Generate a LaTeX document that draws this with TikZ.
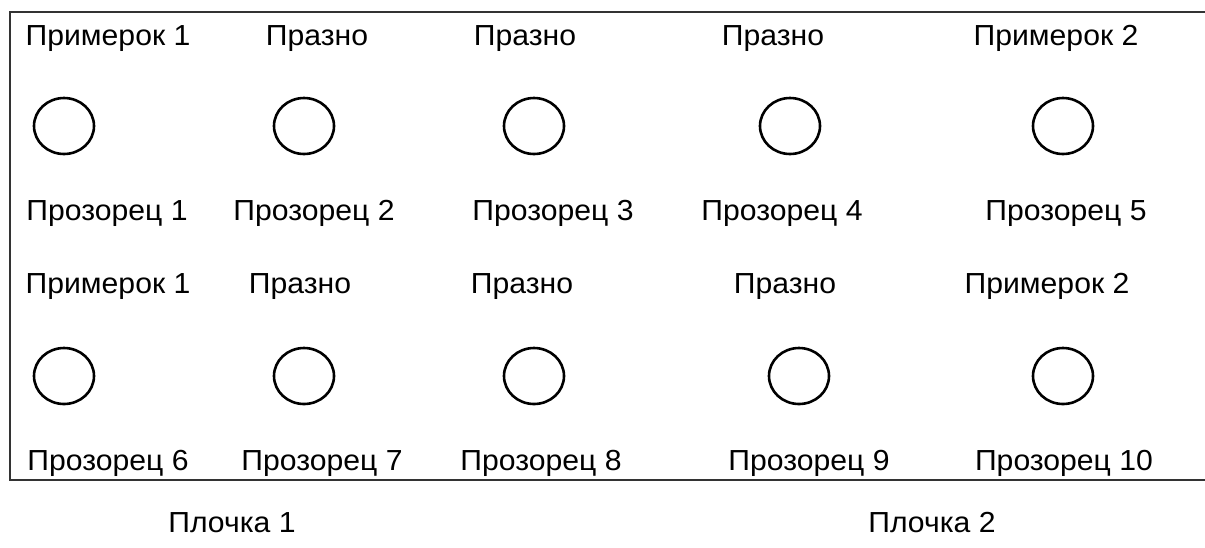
\documentclass[tikz,border=0pt]{standalone}
\usepackage{fontspec}
\setmainfont{Liberation Sans}
\usetikzlibrary{shapes.geometric}
\begin{document}
\begin{tikzpicture}[x=1pt,y=-1pt,
  lbl/.style={inner sep=0pt,anchor=base,xscale=1.04,font=\fontsize{29}{33}\selectfont},
  hole/.style={draw=black,line width=2.6pt,ellipse,inner sep=0pt,minimum width=60pt,minimum height=56pt},
  frame/.style={draw=black!80,line width=1.6pt}]
\useasboundingbox (0,0) rectangle (1205,547);
\draw[frame] (1205,12) -- (10,12) -- (10,480) -- (1205,480);
% row 1
\node[lbl] (t1) at (108,45) {Примерок 1};
\node[lbl] (t2) at (317,45) {Празно};
\node[lbl] (t3) at (525,45) {Празно};
\node[lbl] (t4) at (773,45) {Празно};
\node[lbl] (t5) at (1056,45) {Примерок 2};
\node[hole] (c1) at (64,126) {};
\node[hole] (c2) at (304,126) {};
\node[hole] (c3) at (534,126) {};
\node[hole] (c4) at (790,126) {};
\node[hole] (c5) at (1063,126) {};
\node[lbl] (w1) at (107,220) {Прозорец 1};
\node[lbl] (w2) at (314,220) {Прозорец 2};
\node[lbl] (w3) at (553,220) {Прозорец 3};
\node[lbl] (w4) at (782,220) {Прозорец 4};
\node[lbl] (w5) at (1066,220) {Прозорец 5};
% row 2
\node[lbl] (s1) at (108,293) {Примерок 1};
\node[lbl] (s2) at (300,293) {Празно};
\node[lbl] (s3) at (522,293) {Празно};
\node[lbl] (s4) at (785,293) {Празно};
\node[lbl] (s5) at (1047,293) {Примерок 2};
\node[hole] (d1) at (64,376) {};
\node[hole] (d2) at (304,376) {};
\node[hole] (d3) at (534,376) {};
\node[hole] (d4) at (799,376) {};
\node[hole] (d5) at (1063,376) {};
\node[lbl] (v1) at (108,470) {Прозорец 6};
\node[lbl] (v2) at (322,470) {Прозорец 7};
\node[lbl] (v3) at (541,470) {Прозорец 8};
\node[lbl] (v4) at (809,470) {Прозорец 9};
\node[lbl] (v5) at (1064,470) {Прозорец 10};
% plates
\node[lbl] (p1) at (232,532) {Плочка 1};
\node[lbl] (p2) at (932,532) {Плочка 2};
\end{tikzpicture}
\end{document}
